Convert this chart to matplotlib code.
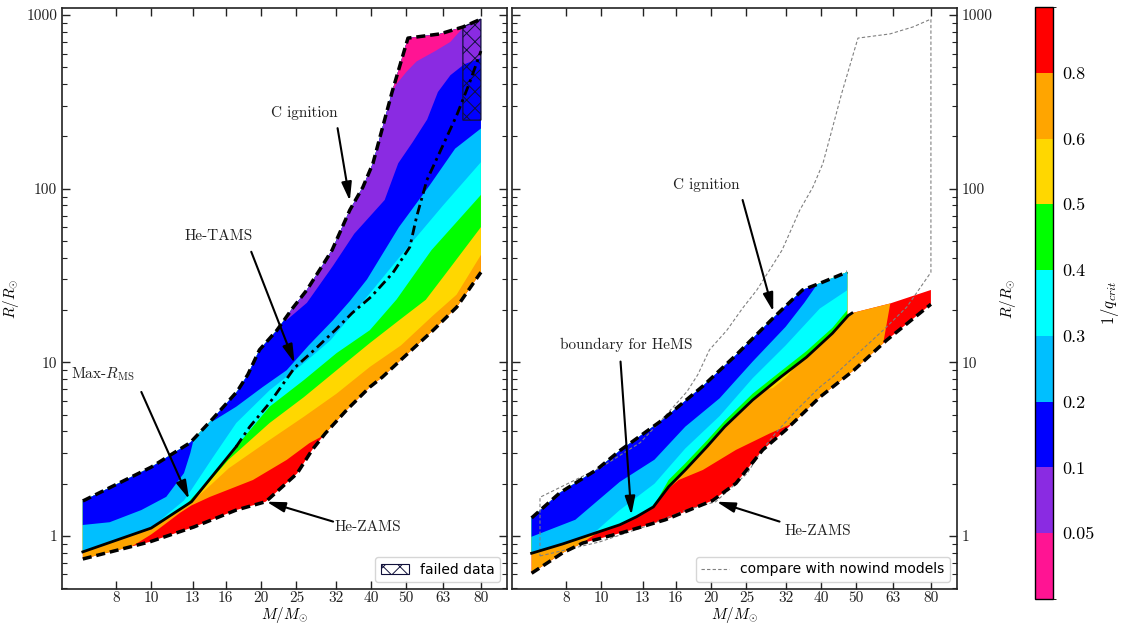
import numpy as np
import matplotlib
matplotlib.use('Agg')
import matplotlib.pyplot as plt
from matplotlib.patches import Polygon, Patch
from matplotlib.lines import Line2D
from matplotlib.colors import ListedColormap, BoundaryNorm
from matplotlib.cm import ScalarMappable
from matplotlib.ticker import FixedLocator, FixedFormatter, LogLocator, NullFormatter, NullLocator

plt.rcParams['font.family'] = 'serif'
plt.rcParams['font.serif'] = ['cmr10']
plt.rcParams['mathtext.fontset'] = 'cm'
plt.rcParams['axes.unicode_minus'] = False
plt.rcParams['hatch.linewidth'] = 0.7

# ---------------- colour levels (1/q_crit) ----------------
levels = [0.0, 0.05, 0.1, 0.2, 0.3, 0.4, 0.5, 0.6, 0.8, 1.0]
level_colors = ['deeppink', 'blueviolet', 'blue', 'deepskyblue', 'cyan',
                'lime', 'gold', 'orange', 'red']
cbar_ticks = [0.05, 0.1, 0.2, 0.3, 0.4, 0.5, 0.6, 0.8]
cbar_labels = ['0.05', '0.1', '0.2', '0.3', '0.4', '0.5', '0.6', '0.8']
xticks = [8, 10, 13, 16, 20, 25, 32, 40, 50, 63, 80]
yticks = [1, 10, 100, 1000]

# ---------------- left panel (nowind) ----------------
zams_M = [6.5, 9.9, 13.1, 17.1, 20.6, 25.1, 27.6, 30.0, 34.3, 39.7, 43.0, 50.6, 59.2, 68.7, 80]
zams_R = [0.737, 0.924, 1.127, 1.41, 1.575, 2.29, 3.13, 3.9, 5.31, 7.2, 8.23, 11.3, 15.3, 20.8, 33.0]
cign_M = [6.5, 10, 12.8, 14.7, 16.2, 17.2, 18.4, 19.8, 22.1, 24.4, 26.7, 29.5, 31.3, 35, 38,
          40.5, 45.6, 50.5, 61.8, 71.4, 80]
cign_R = [1.59, 2.49, 3.45, 4.7, 5.9, 6.8, 8.5, 11.8, 15.3, 20.5, 26.1, 36.3, 44.3, 75.3, 102,
          140, 355, 736, 778, 853, 947]
maxrms_M = [6.5, 10, 12.9, 17.1]
maxrms_R = [0.81, 1.11, 1.575, 3.27]
tams_M = [17.1, 18.6, 21.1, 24.7, 28, 31.9, 35.5, 40, 45.9, 51.1, 53.3, 56.9, 61.8, 68.7, 74.6, 80]
tams_R = [3.27, 4.24, 5.83, 9.3, 11.8, 15.3, 19.2, 23.8, 32.7, 46.1, 68.6, 112, 163, 265, 411, 620]

# contour lines of 1/q_crit (left panel)
cL_080_M = [5.0, 8.4, 8.85, 10.0, 10.5, 12.0, 12.9, 14.5, 16.3, 19.0, 23.5, 27.1, 29.8, 32.0, 100]
cL_080_R = [0.3, 0.78, 0.87, 1.02, 1.10, 1.36, 1.50, 1.68, 1.85, 2.1, 2.74, 3.42, 3.81, 3.6, 3.6]
cL_060_M = [6.0, 6.5, 10.0, 12.9, 14.5, 16.3, 21.1, 26.2, 32.2, 39.7, 48.3, 59, 68.6, 80, 90]
cL_060_R = [0.77, 0.81, 1.11, 1.575, 1.95, 2.45, 3.57, 4.86, 6.6, 9.4, 12.5, 18.5, 24.5, 41.5, 55]
cL_050_M = [6.0, 6.5, 10.0, 12.9, 14.5, 16.3, 21.1, 26.2, 32.2, 39.7, 48, 56.5, 65, 80, 90]
cL_050_R = [0.77, 0.81, 1.11, 1.575, 2.08, 2.75, 4.47, 6.3, 9.0, 12.9, 17.6, 22.9, 33.7, 60, 90]
cL_040_M = [6.0, 6.5, 10.0, 12.3, 12.9, 14.5, 16.3, 17.1, 21.1, 26.2, 32.2, 39.7, 47, 58.6, 80, 90]
cL_040_R = [0.77, 0.81, 1.11, 1.47, 1.64, 2.13, 2.89, 3.27, 5.55, 7.9, 11.3, 15.3, 23, 44.3, 92, 140]
cL_030_M = [6.0, 6.5, 10.0, 11.2, 12.3, 12.9, 14.7, 17.1, 21.1, 26.2, 31, 38.4, 50, 63, 80, 90]
cL_030_R = [0.77, 0.81, 1.11, 1.36, 1.6, 1.85, 2.8, 4.47, 6.9, 9.9, 13.4, 22.9, 45, 80, 142, 200]
cL_020_M = [6.0, 6.5, 7.7, 9.4, 11.0, 12.3, 12.8, 13.2, 14.0, 14.8, 17.1, 20.2, 23.5, 27.0, 31.5,
            35, 39, 47.7, 58, 68, 80, 90]
cL_020_R = [1.13, 1.157, 1.2, 1.41, 1.68, 2.3, 3.0, 3.9, 4.9, 4.6, 5.55, 7.2, 9.0, 12.5, 17.5,
            22.5, 30, 60, 105, 170, 222, 260]
cL_010_M = [22.5, 23.5, 26.7, 31.5, 36, 43.6, 47.5, 52, 57, 61, 66, 72, 80, 90]
cL_010_R = [19, 17.5, 22, 36, 55, 86, 140, 185, 250, 360, 450, 520, 565, 600]
cL_005_M = [45, 47, 50, 53.3, 60, 66, 72]
cL_005_R = [340, 400, 470, 540, 620, 700, 860]

failed_M = [71.4, 80]
failed_R = [248, 853, 947]

# ---------------- right panel (with wind) ----------------
zamsW_M = [6.45, 7.85, 8.9, 11.5, 15.0, 20.2, 23.4, 27.7, 32.0, 39.7, 49.2, 60.5, 80]
zamsW_R = [0.61, 0.80, 0.91, 1.05, 1.24, 1.6, 2.01, 3.13, 4.07, 6.3, 9.0, 13.4, 21.6]
cignW_M = [6.45, 7.7, 9.7, 11.25, 14.7, 19.0, 23.4, 29.6, 35.6, 39.7, 47.2]
cignW_R = [1.27, 1.77, 2.4, 3.1, 4.65, 7.3, 11.0, 18.0, 26.1, 28.5, 33.1]
hems_M = [6.45, 7.85, 9.9, 11.25, 12.5, 13.9, 15.3, 17.0, 19.5, 21.8, 26.0, 31.1, 36.5, 43.0, 47.5, 48.6]
hems_R = [0.795, 0.90, 1.06, 1.16, 1.29, 1.47, 1.92, 2.40, 3.27, 4.26, 6.07, 8.26, 10.7, 14.7, 18.6, 19.2]
mstop_M = [48.6, 61.8, 80]
mstop_R = [19.2, 21.8, 26.1]

cR_080_M = [5.0, 8.6, 9.2, 9.9, 11.25, 12.5, 13.9, 15.3, 16.3, 19.0, 23.4, 29.0, 33.5, 36, 59, 62.3, 63]
cR_080_R = [0.3, 0.85, 0.96, 1.06, 1.16, 1.29, 1.47, 1.88, 2.1, 2.4, 3.13, 3.9, 4.45, 4.3, 12.3, 23.5, 40]
cR_060_M = [6.0, 6.45, 7.85, 9.9, 11.25, 12.5, 13.9, 15.3, 17.0, 19.5, 21.8, 26.0, 28.5, 29.5, 31.0,
            32.5, 34.0, 36.5, 43.0, 47.5, 48.6, 49.5]
cR_060_R = [0.76, 0.795, 0.90, 1.06, 1.16, 1.29, 1.47, 1.92, 2.40, 3.27, 4.26, 6.07, 7.0, 7.1, 7.7,
            8.4, 9.5, 10.7, 14.7, 18.6, 19.2, 30]
cR_050_M = [6.0, 6.45, 7.85, 9.9, 11.25, 12.5, 13.9, 15.3, 17.0, 19.5, 21.8, 26.0, 31.1, 36.5, 43.0,
            47.5, 48.6, 49.5]
cR_050_R = [0.76, 0.795, 0.90, 1.06, 1.16, 1.29, 1.47, 1.92, 2.40, 3.27, 4.26, 6.07, 8.26, 10.7, 14.7,
            18.6, 19.2, 30]
cR_040_M = [6.0, 6.45, 7.85, 9.9, 11.25, 12.5, 13.9, 15.3, 17.0, 19.5, 21.8, 26.0, 31.1, 36.5, 43.0,
            47.5, 48.6, 49.5]
cR_040_R = [0.76, 0.795, 0.90, 1.06, 1.16, 1.29, 1.47, 2.1, 2.62, 3.55, 4.6, 6.6, 8.9, 11.6, 15.8,
            20.3, 24, 40]
cR_030_M = [6.0, 6.45, 7.85, 9.5, 11.25, 14.0, 17.0, 21.1, 26.0, 32.0, 39.7, 47.2, 49.5]
cR_030_R = [0.76, 0.795, 0.90, 1.03, 1.41, 2.0, 3.19, 4.9, 8.1, 12.5, 20.4, 26, 40]
cR_020_M = [6.0, 6.45, 8.5, 11.25, 14.0, 17.0, 21.1, 26.0, 32.0, 36.0, 39.0, 40.5]
cR_020_R = [0.95, 0.99, 1.24, 2.05, 2.75, 4.26, 6.2, 10.1, 16.0, 22.0, 28.0, 35.0]

# outline of the nowind models (grey dashed)
nowind_lo_M = [6.8, 9.9, 13.1, 17.1, 20.6, 25.1, 27.6, 30.0, 34.3, 39.7, 43.0, 50.6, 59.2, 68.7, 80]
nowind_lo_R = [0.767, 0.924, 1.127, 1.41, 1.575, 2.29, 3.13, 3.9, 5.31, 7.2, 8.23, 11.3, 15.3, 20.8, 33.0]
nowind_up_M = [6.8, 10, 12.8, 14.7, 16.2, 17.2, 18.4, 19.8, 22.1, 24.4, 26.7, 29.5, 31.3, 35, 38,
               40.5, 45.6, 50.5, 61.8, 71.4, 80]
nowind_up_R = [1.67, 2.49, 3.45, 4.7, 5.9, 6.8, 8.5, 11.8, 15.3, 20.5, 26.1, 36.3, 44.3, 75.3, 102,
               140, 355, 736, 778, 853, 947]

TOP = 5000.0

fig = plt.figure(figsize=(11.26, 6.27), dpi=100)
ax1 = fig.add_axes([62 / 1126, 38 / 627, 445 / 1126, 581 / 627])
ax2 = fig.add_axes([512 / 1126, 38 / 627, 445 / 1126, 581 / 627])
cax = fig.add_axes([1035 / 1126, 28 / 627, 18 / 1126, 592 / 627])


def draw_bands(ax, reg_M, reg_R, contours):
    region = Polygon(np.column_stack([reg_M, reg_R]), closed=True,
                     facecolor=level_colors[-1], edgecolor='none', zorder=1)
    ax.add_patch(region)
    for ci, (Ms, Rs) in contours:
        xs = list(Ms) + [Ms[-1], Ms[0]]
        ys = list(Rs) + [TOP, TOP]
        p = ax.fill(xs, ys, color=level_colors[ci], lw=0, zorder=2)[0]
        p.set_clip_path(region)
    return region


# left panel bands
regL_M = zams_M + cign_M[::-1]
regL_R = zams_R + cign_R[::-1]
draw_bands(ax1, regL_M, regL_R, [
    (7, (cL_080_M, cL_080_R)),
    (6, (cL_060_M, cL_060_R)),
    (5, (cL_050_M, cL_050_R)),
    (4, (cL_040_M, cL_040_R)),
    (3, (cL_030_M, cL_030_R)),
    (2, (cL_020_M, cL_020_R)),
    (1, (cL_010_M, cL_010_R)),
    (0, (cL_005_M, cL_005_R)),
])

# right panel bands
regR_M = zamsW_M + mstop_M[::-1] + [47.2] + cignW_M[::-1]
regR_R = zamsW_R + mstop_R[::-1] + [18.4] + cignW_R[::-1]
draw_bands(ax2, regR_M, regR_R, [
    (7, (cR_080_M, cR_080_R)),
    (6, (cR_060_M, cR_060_R)),
    (5, (cR_050_M, cR_050_R)),
    (4, (cR_040_M, cR_040_R)),
    (3, (cR_030_M, cR_030_R)),
    (2, (cR_020_M, cR_020_R)),
])

# failed data box
fverts = [(failed_M[0], failed_R[0]), (failed_M[0], failed_R[1]),
          (failed_M[1], failed_R[2]), (failed_M[1], failed_R[0])]
ax1.add_patch(Polygon(fverts, closed=True, facecolor='none', edgecolor='#10103a',
                      hatch='xx', lw=0.9, zorder=3))

dash = (0, (2.6, 1.4))
ddot = (0, (3.5, 1.6, 1.0, 1.6))
ax1.plot(zams_M, zams_R, color='k', lw=2.5, ls=dash, zorder=4)
ax1.plot(cign_M, cign_R, color='k', lw=2.5, ls=dash, zorder=4)
ax1.plot(maxrms_M, maxrms_R, color='k', lw=2.0, ls='-', zorder=4)
ax1.plot(tams_M, tams_R, color='k', lw=2.0, ls=ddot, zorder=4)

ax2.plot(nowind_lo_M + nowind_up_M[::-1] + [nowind_lo_M[0]],
         nowind_lo_R + nowind_up_R[::-1] + [nowind_lo_R[0]],
         color='gray', lw=0.8, ls=(0, (3, 2)), zorder=3)
ax2.plot(zamsW_M, zamsW_R, color='k', lw=2.5, ls=dash, zorder=4)
ax2.plot(cignW_M, cignW_R, color='k', lw=2.5, ls=dash, zorder=4)
ax2.plot(hems_M, hems_R, color='k', lw=2.0, ls='-', zorder=4)

aprops = dict(arrowstyle='-|>,head_length=0.8,head_width=0.22', color='k', lw=1.5,
              shrinkA=0, shrinkB=0, mutation_scale=14)
fs_ann = 11


def note(ax, text, tpos, tail, tip):
    ax.text(tpos[0], tpos[1], text, ha='center', va='center', fontsize=fs_ann, color='#222222', zorder=6)
    ax.annotate('', xy=tip, xytext=tail, arrowprops=aprops, zorder=6)


note(ax1, 'C ignition', (26.2, 272), (32.4, 223), (35.0, 85))
note(ax1, 'He-TAMS', (15.3, 53.3), (18.8, 43.3), (24.7, 9.9))
note(ax1, r'Max-$R_{\rm MS}$', (7.37, 8.56), (9.4, 6.75), (12.7, 1.63))
note(ax1, 'He-ZAMS', (39.2, 1.127), (31.5, 1.21), (20.7, 1.575))

note(ax2, 'C ignition', (19.4, 105), (24.4, 86), (29.6, 19.6))
note(ax2, 'boundary for HeMS', (11.7, 12.6), (11.3, 10.1), (12.1, 1.32))
note(ax2, 'He-ZAMS', (39.3, 1.06), (30.8, 1.21), (20.7, 1.575))

for ax in (ax1, ax2):
    ax.set_xscale('log')
    ax.set_yscale('log')
    ax.set_xlim(5.7, 94.3)
    ax.set_ylim(0.495, 1097)
    ax.xaxis.set_major_locator(FixedLocator(xticks))
    ax.xaxis.set_major_formatter(FixedFormatter([str(t) for t in xticks]))
    ax.xaxis.set_minor_locator(NullLocator())
    ax.yaxis.set_major_locator(FixedLocator(yticks))
    ax.yaxis.set_major_formatter(FixedFormatter([str(t) for t in yticks]))
    ax.yaxis.set_minor_locator(LogLocator(base=10, subs=np.arange(2, 10)))
    ax.yaxis.set_minor_formatter(NullFormatter())
    ax.tick_params(which='both', direction='in', top=True, bottom=True, left=True, right=True,
                   labelsize=11, colors='#222222')
    ax.tick_params(axis='x', which='major', pad=2)
    ax.tick_params(which='major', length=6, width=1.0)
    ax.tick_params(which='minor', length=3.5, width=0.8)
    for s in ax.spines.values():
        s.set_linewidth(1.2)
        s.set_color('#222222')
    ax.set_xlabel(r'$M/M_{\odot}$', fontsize=11, labelpad=0)

ax1.set_ylabel(r'$R/R_{\odot}$', fontsize=11, labelpad=4)
ax2.tick_params(labelleft=False, labelright=True)
ax2.yaxis.set_label_position('right')
ax2.set_ylabel(r'$R/R_{\odot}$', fontsize=11, labelpad=4)

leg1 = ax1.legend(handles=[Patch(facecolor='white', edgecolor='#10103a', hatch='xx', lw=0.8,
                                 label='failed data')],
                  loc='lower right', prop={'family': 'DejaVu Sans', 'size': 10})
leg1.set_zorder(10)
leg2 = ax2.legend(handles=[Line2D([0], [0], color='gray', lw=0.8, ls=(0, (3, 2)),
                                  label='compare with nowind models')],
                  loc='lower right', prop={'family': 'DejaVu Sans', 'size': 10})
leg2.set_zorder(10)

cmap = ListedColormap(level_colors)
norm = BoundaryNorm(levels, cmap.N)
sm = ScalarMappable(norm=norm, cmap=cmap)
cb = fig.colorbar(sm, cax=cax, boundaries=levels, spacing='uniform', ticks=cbar_ticks)
cb.ax.set_yticklabels(cbar_labels)
cb.ax.tick_params(length=0, pad=7, labelsize=13)
cb.outline.set_linewidth(1.0)
cb.set_label(r'$1/q_{crit}$', fontsize=12, labelpad=3)

fig.savefig('out.png', dpi=100)
